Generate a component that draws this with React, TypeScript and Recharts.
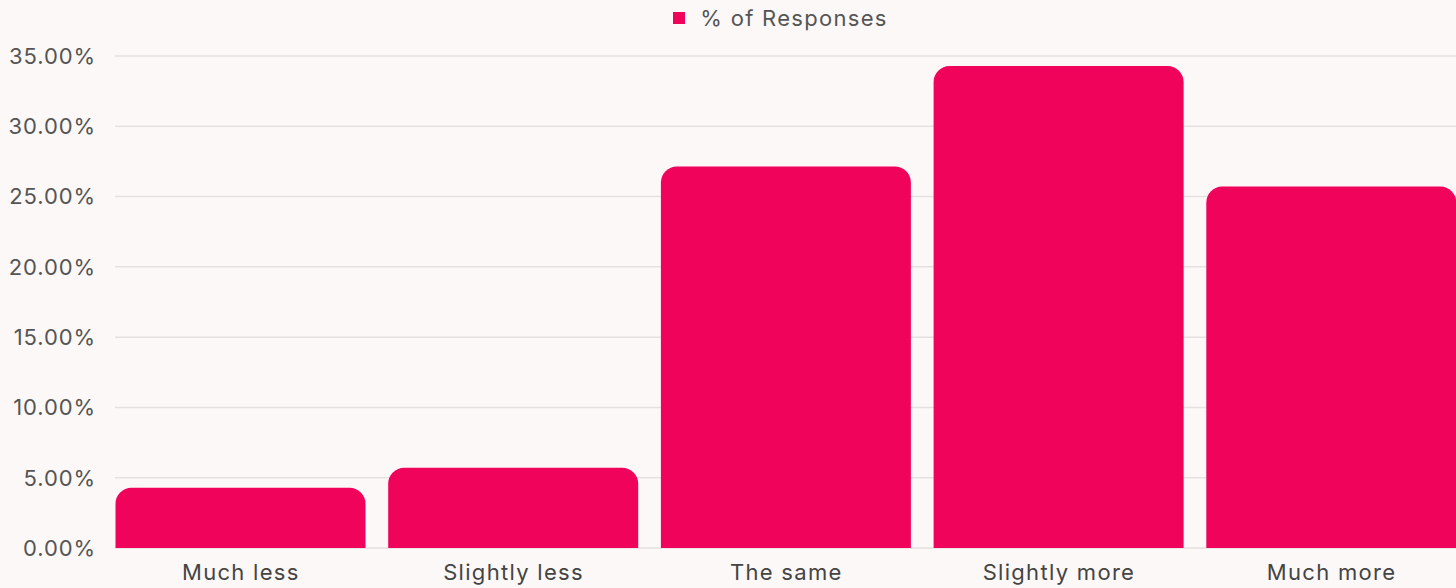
import { BarChart, Bar, XAxis, YAxis, CartesianGrid, Legend } from 'recharts';

const categories = ['Much less', 'Slightly less', 'The same', 'Slightly more', 'Much more'];
const responses = [4.29, 5.71, 27.14, 34.29, 25.71];
const yTicks = [0, 5, 10, 15, 20, 25, 30, 35];

const chartData = categories.map((name, i) => ({ name, value: responses[i] }));

const BAR_COLOR = '#f0035a';
const FONT = 'Inter, "Open Sans", sans-serif';

function LegendContent() {
    return (
        <div style={{ display: 'flex', justifyContent: 'center', alignItems: 'center', fontFamily: FONT, height: 24 }}>
            <span style={{ width: 12, height: 12, background: BAR_COLOR, display: 'inline-block', marginRight: 15 }} />
            <span style={{ fontSize: 22, letterSpacing: 1.3, color: '#555' }}>% of Responses</span>
        </div>
    );
}

export default function App() {
    return (
        <div
            style={{
                position: 'absolute',
                left: 0,
                top: 0,
                width: 1456,
                height: 588,
                overflow: 'hidden',
                background: '#fcf8f7',
            }}
        >
            <BarChart
                width={1468}
                height={588}
                data={chartData}
                margin={{ top: 32, right: 0, left: 0, bottom: 10 }}
                barSize={250}
            >
                <CartesianGrid vertical={false} stroke="#e4e1e0" strokeWidth={1.5} />
                <XAxis
                    dataKey="name"
                    padding={{ left: -10.5, right: 0 }}
                    axisLine={false}
                    tickLine={false}
                    tickSize={0}
                    tickMargin={16}
                    height={30}
                    interval={0}
                    tick={{ fontSize: 22, letterSpacing: 1.3, fill: '#444', fontFamily: FONT }}
                />
                <YAxis
                    width={115}
                    domain={[0, 35]}
                    ticks={yTicks}
                    axisLine={false}
                    tickLine={false}
                    tickSize={0}
                    tickMargin={19}
                    tick={{ fontSize: 22, letterSpacing: 0.9, fill: '#555', fontFamily: FONT }}
                    tickFormatter={(v: number) => `${v.toFixed(2)}%`}
                />
                <Legend
                    verticalAlign="top"
                    content={<LegendContent />}
                    wrapperStyle={{ top: 6, left: 104, width: 1353 }}
                />
                <Bar
                    dataKey="value"
                    name="% of Responses"
                    fill={BAR_COLOR}
                    radius={[16, 16, 0, 0]}
                    isAnimationActive={false}
                />
            </BarChart>
        </div>
    );
}
